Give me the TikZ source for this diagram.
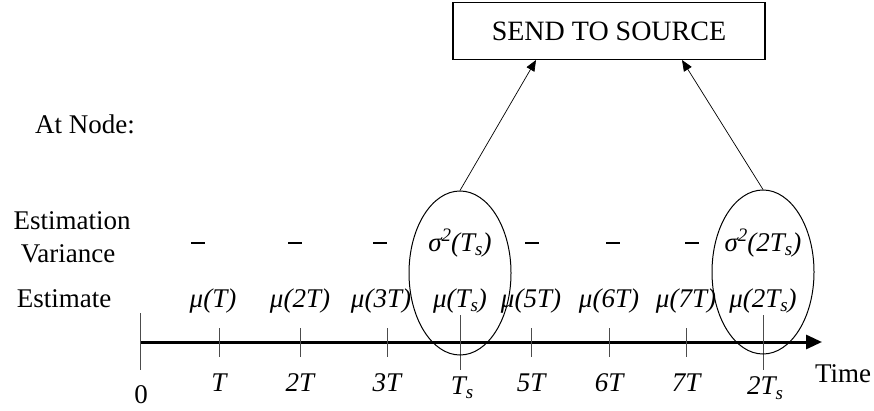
\documentclass[tikz,border=0pt]{standalone}
\usepackage{fontspec}
\setmainfont{Liberation Serif}
\usetikzlibrary{arrows.meta,shapes.geometric}
\newcommand{\mysub}[1]{\raisebox{-0.35ex}{\fontsize{19}{19}\selectfont #1}}
\newcommand{\mysup}[1]{\raisebox{0.75ex}{\fontsize{19}{19}\selectfont #1}}
\begin{document}
\begin{tikzpicture}[x=1pt,y=-1pt,
  lbl/.style={font=\fontsize{27}{30}\selectfont, inner sep=0pt},
  ilbl/.style={font=\fontsize{27}{30}\selectfont\itshape, inner sep=0pt},
  tick/.style={line width=0.8pt, draw=black!70},
  oval/.style={draw, line width=1pt, ellipse, minimum width=102pt, minimum height=164pt, inner sep=0pt},
  conn/.style={line width=0.7pt, -{Triangle[length=11pt,width=9pt]}}]
\useasboundingbox (0,0) rectangle (874,411);
% box
\node[draw, line width=1.2pt, minimum width=312pt, minimum height=57pt, font=\fontsize{28}{30}\selectfont] (box) at (609,31) {SEND TO SOURCE};
% row labels
\node[lbl] (atnode) at (85,124) {At Node:};
\node[lbl] (estim) at (72,221) {Estimation};
\node[lbl] (var) at (68,254) {Variance};
\node[lbl] (est) at (64,299) {Estimate};
% axis
\coordinate (a0) at (140,342);
\coordinate (aend) at (822,342);
\draw[line width=3pt, -{Triangle[length=16pt,width=14pt]}] (a0) -- (aend);
\node[lbl] (time) at (843,374) {Time};
% ticks
\coordinate (z1) at (140,313); \coordinate (z2) at (140,370);
\draw[tick] (z1) -- (z2);
\node[lbl] (l0) at (141,395) {0};
\foreach \n/\x/\t in {t1/219/T, t2/300/2T, t3/387/3T, t5/531/5T, t6/609/6T, t7/686/7T}{
  \coordinate (\n a) at (\x,328); \coordinate (\n b) at (\x,357);
  \draw[tick] (\n a) -- (\n b);
  \node[ilbl] (\n l) at (\x,383) {\t};
}
\foreach \n/\x in {ts/460, tt/763}{
  \coordinate (\n a) at (\x,315); \coordinate (\n b) at (\x,370);
  \draw[tick] (\n a) -- (\n b);
}
\node[ilbl] (tsl) at (462,388) {T\mysub{s}};
\node[ilbl] (ttl) at (765,388) {2T\mysub{s}};
% estimates
\node[ilbl] (m1) at (213,301) {μ(T)};
\node[ilbl] (m2) at (300,301) {μ(2T)};
\node[ilbl] (m3) at (381,301) {μ(3T)};
\node[ilbl] (m4) at (460,301) {μ(T\mysub{s})};
\node[ilbl] (m5) at (531,301) {μ(5T)};
\node[ilbl] (m6) at (609,301) {μ(6T)};
\node[ilbl] (m7) at (686,301) {μ(7T)};
\node[ilbl] (m8) at (763,301) {μ(2T\mysub{s})};
% variances
\foreach \n/\x in {d1/198, d2/295, d3/380, d5/532, d6/613, d7/692}{
  \node[lbl] (\n) at (\x,243) {\rule{14pt}{1.6pt}};
}
\node[ilbl] (s1) at (460,243) {σ\mysup{2}(T\mysub{s})};
\node[ilbl] (s2) at (763,243) {σ\mysup{2}(2T\mysub{s})};
% ellipses
\node[oval] (e1) at (460,273) {};
\node[oval] (e2) at (763,272) {};
\coordinate (b1) at (536,60);
\coordinate (b2) at (682,60);
\draw[conn] (e1.north) -- (b1);
\draw[conn] (e2.north) -- (b2);
\end{tikzpicture}
\end{document}
